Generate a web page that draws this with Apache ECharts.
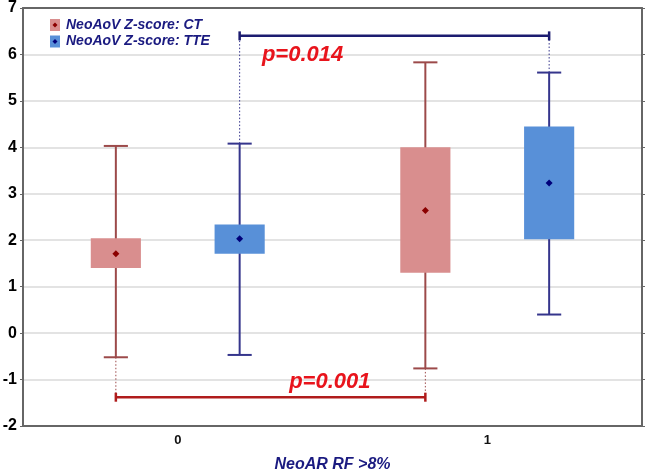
<!DOCTYPE html>
<html>
<head>
<meta charset="utf-8">
<script src="https://cdn.jsdelivr.net/npm/echarts@6/dist/echarts.min.js"></script>
<style>
  html, body { margin: 0; padding: 0; background: #fff; }
  #chart { width: 646px; height: 473px; }
</style>
</head>
<body>
<div id="chart"></div>
<script>
var categories = ['0', '1'];
// each row: [whisker low, box low, mean, box high, whisker high]
var ctStats = [
  [-0.52, 1.40, 1.71, 2.04, 4.03],
  [-0.76, 1.30, 2.64, 4.00, 5.83]
];
var tteStats = [
  [-0.47, 1.71, 2.03, 2.34, 4.08],
  [0.40, 2.02, 3.23, 4.45, 5.61]
];
var seriesNames = ['NeoAoV Z-score: CT', 'NeoAoV Z-score: TTE'];
var pTexts = ['p=0.014', 'p=0.001'];
var bracketLevels = [6.4, -1.38];
var pTextLevels = [6.0, -1.05];

var FONT = 'Arial, "Liberation Sans", sans-serif';
var ctCol = { box: '#d98e8e', line: '#9c4a4a', mean: '#8b0000', bracket: '#b01c1c' };
var tteCol = { box: '#5890d8', line: '#35358c', mean: '#00007a', bracket: '#1c1c70' };

// box + whiskers + mean, shifted inside the category band
function boxRender(shift, col) {
  return function (params, api) {
    var band = api.size([1, 0])[0];
    var cx = api.coord([api.value(0), 0])[0] + shift * band;
    var y = [1, 2, 3, 4, 5].map(function (i) { return api.coord([api.value(0), api.value(i)])[1]; });
    var hw = band * 0.081, cw = band * 0.039, d = 3.5;
    var ls = { stroke: col.line, lineWidth: 2 };
    return {
      type: 'group',
      children: [
        { type: 'line', shape: { x1: cx, y1: y[0], x2: cx, y2: y[4] }, style: ls },
        { type: 'line', shape: { x1: cx - cw, y1: y[0], x2: cx + cw, y2: y[0] }, style: ls },
        { type: 'line', shape: { x1: cx - cw, y1: y[4], x2: cx + cw, y2: y[4] }, style: ls },
        { type: 'rect', shape: { x: cx - hw, y: y[3], width: 2 * hw, height: y[1] - y[3] }, style: { fill: col.box } },
        { type: 'polygon', shape: { points: [[cx, y[2] - d], [cx + d, y[2]], [cx, y[2] + d], [cx - d, y[2]]] }, style: { fill: col.mean } }
      ]
    };
  };
}

// significance bracket between the two categories, with dotted leaders and p text
function bracketRender(shift, col, textShift, label) {
  return function (params, api) {
    var band = api.size([1, 0])[0];
    var x0 = api.coord([0, 0])[0] + shift * band;
    var x1 = api.coord([1, 0])[0] + shift * band;
    var yb = api.coord([0, api.value(0)])[1];
    var e0 = api.coord([0, api.value(1)])[1];
    var e1 = api.coord([0, api.value(2)])[1];
    var yt = api.coord([0, api.value(3)])[1];
    var dot = { stroke: col.line, lineWidth: 1, lineDash: [1.5, 2] };
    var solid = { stroke: col.bracket, lineWidth: 2.5 };
    return {
      type: 'group',
      children: [
        { type: 'line', shape: { x1: x0, y1: e0, x2: x0, y2: yb }, style: dot },
        { type: 'line', shape: { x1: x1, y1: e1, x2: x1, y2: yb }, style: dot },
        { type: 'line', shape: { x1: x0, y1: yb, x2: x1, y2: yb }, style: solid },
        { type: 'line', shape: { x1: x0, y1: yb - 4.5, x2: x0, y2: yb + 4.5 }, style: solid },
        { type: 'line', shape: { x1: x1, y1: yb - 4.5, x2: x1, y2: yb + 4.5 }, style: solid },
        {
          type: 'text', x: api.coord([0, 0])[0] + textShift * band, y: yt,
          style: {
            text: label, fill: '#e8141c', font: 'italic bold 22px ' + FONT,
            align: 'left', verticalAlign: 'middle'
          }
        }
      ]
    };
  };
}

function toRows(stats) {
  return stats.map(function (s, i) { return [i].concat(s); });
}

var legendGraphic = [];
[[ctCol, seriesNames[0], 25], [tteCol, seriesNames[1], 41.5]].forEach(function (it) {
  var c = it[0], cy = it[2];
  legendGraphic.push(
    { type: 'rect', shape: { x: 50, y: cy - 6, width: 10, height: 12 }, style: { fill: c.box } },
    { type: 'polygon', shape: { points: [[55, cy - 2.5], [57.5, cy], [55, cy + 2.5], [52.5, cy]] }, style: { fill: c.mean } },
    { type: 'text', x: 66, y: cy, style: { text: it[1], fill: '#1a1a80', font: 'italic bold 14px ' + FONT, verticalAlign: 'middle' } }
  );
});

var chart = echarts.init(document.getElementById('chart'), null, { renderer: 'canvas' });
chart.setOption({
  backgroundColor: '#ffffff',
  animation: false,
  grid: { left: 23, right: 4, top: 8, bottom: 47, outerBoundsMode: 'none', containLabel: false },
  graphic: legendGraphic,
  xAxis: [{
    type: 'category',
    data: categories,
    position: 'bottom',
    axisLine: { onZero: false, lineStyle: { color: '#666', width: 2 } },
    axisTick: { inside: true, length: 4, alignWithLabel: true, lineStyle: { color: '#666' } },
    axisLabel: { color: '#111', fontWeight: 'bold', fontSize: 13, fontFamily: FONT, margin: 8 },
    name: 'NeoAR RF >8%',
    nameLocation: 'middle',
    nameGap: 31,
    nameTextStyle: { color: '#1a1a80', fontWeight: 'bold', fontStyle: 'italic', fontSize: 16, fontFamily: FONT }
  }, {
    type: 'category',
    data: categories,
    position: 'top',
    axisLine: { onZero: false, lineStyle: { color: '#666', width: 2 } },
    axisTick: { inside: true, length: 4, alignWithLabel: true, lineStyle: { color: '#666' } },
    axisLabel: { show: false }
  }],
  yAxis: [{
    type: 'value',
    min: -2, max: 7, interval: 1,
    axisLine: { show: true, onZero: false, lineStyle: { color: '#666', width: 2 } },
    axisTick: { show: true, length: 3, lineStyle: { color: '#666' } },
    axisLabel: { color: '#000', fontWeight: 'bold', fontSize: 16, fontFamily: FONT, margin: 6 },
    splitLine: { lineStyle: { color: '#dadada', width: 1.5 } }
  }, {
    type: 'value',
    position: 'right',
    min: -2, max: 7, interval: 1,
    axisLine: { show: true, onZero: false, lineStyle: { color: '#666', width: 2 } },
    axisTick: { show: true, length: 3, lineStyle: { color: '#666' } },
    axisLabel: { show: false },
    splitLine: { show: false }
  }],
  series: [{
    name: seriesNames[0], type: 'custom',
    renderItem: boxRender(-0.2, ctCol),
    data: toRows(ctStats), z: 3
  }, {
    name: seriesNames[1], type: 'custom',
    renderItem: boxRender(0.2, tteCol),
    data: toRows(tteStats), z: 3
  }, {
    type: 'custom',
    renderItem: bracketRender(0.2, tteCol, 0.272, pTexts[0]),
    data: [[bracketLevels[0], tteStats[0][4], tteStats[1][4], pTextLevels[0]]], z: 2
  }, {
    type: 'custom',
    renderItem: bracketRender(-0.2, ctCol, 0.36, pTexts[1]),
    data: [[bracketLevels[1], ctStats[0][0], ctStats[1][0], pTextLevels[1]]], z: 2
  }]
});
</script>
</body>
</html>
